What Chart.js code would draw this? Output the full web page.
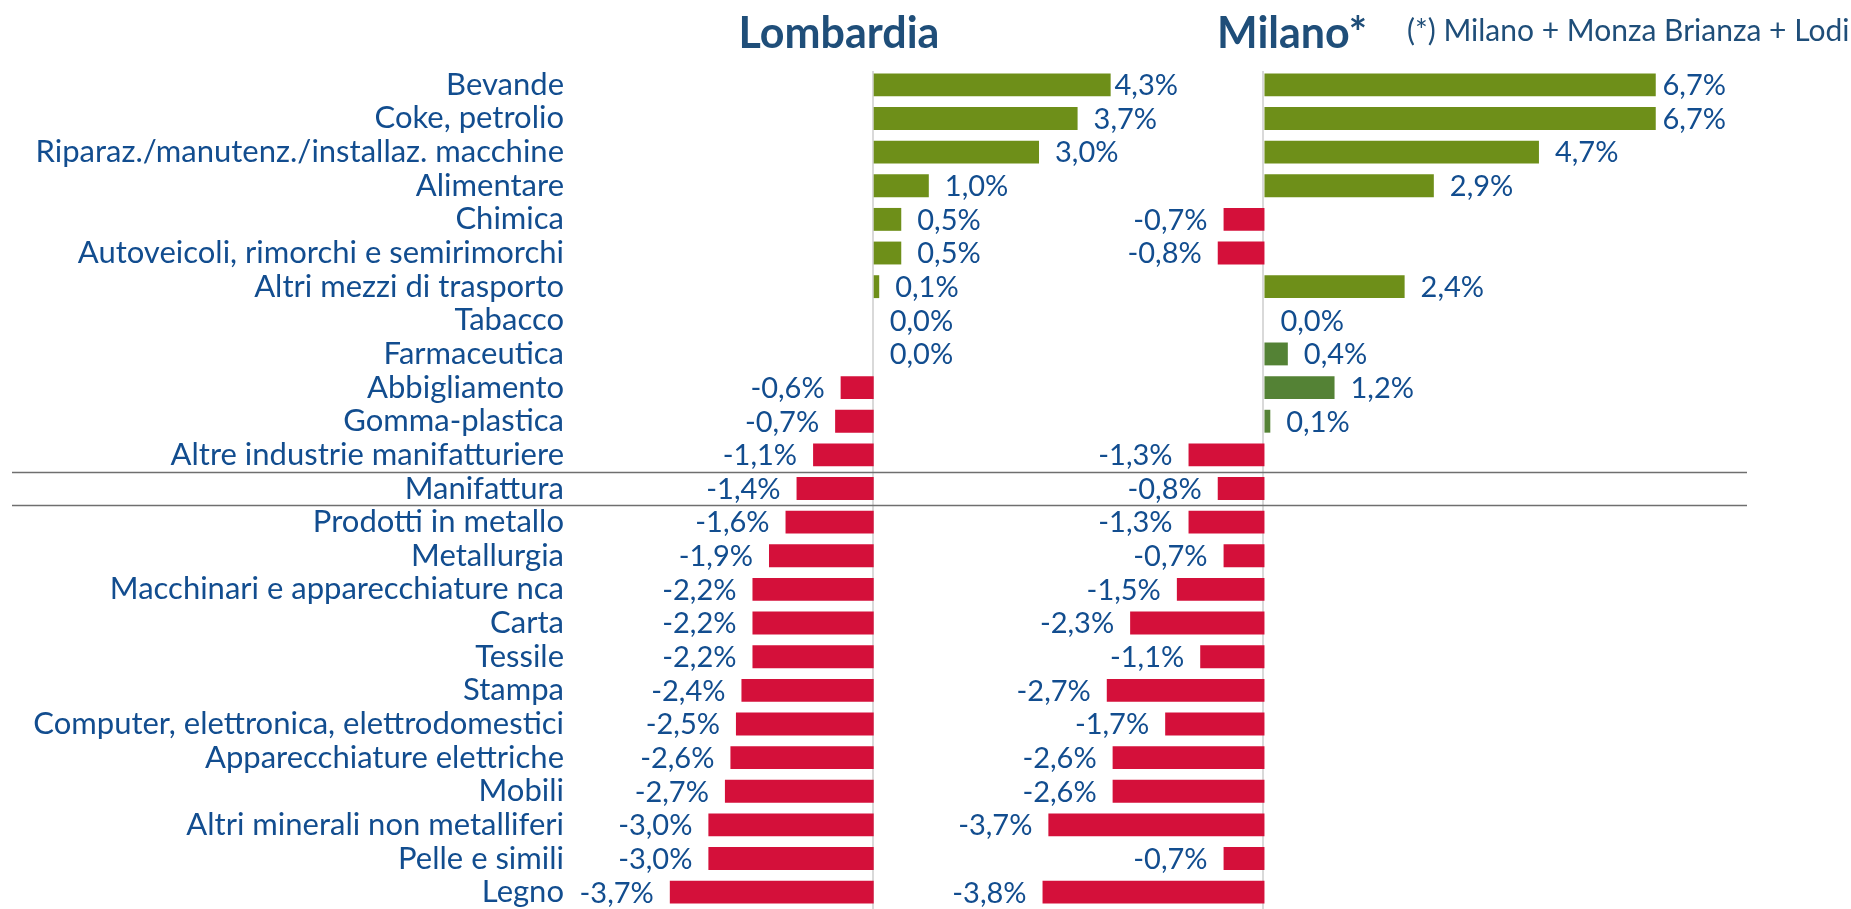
<!DOCTYPE html>
<html lang="it">
<head>
<meta charset="utf-8">
<title>Lombardia / Milano</title>
<script src="https://cdn.jsdelivr.net/npm/chart.js@4.4.1/dist/chart.umd.min.js"></script>
<style>
  html, body { margin: 0; padding: 0; background: #fff; }
  #wrap { position: relative; width: 1851px; height: 909px; overflow: hidden; }
  #chart { position: absolute; left: 0; top: 0; }
  .title { position: absolute; font-family: Lato, "Noto Sans", sans-serif; line-height: 1; white-space: nowrap; }
  .main { font-size: 43px; font-weight: bold; color: #1F4E79; top: 10px; transform: translateX(-50%); }
  .note { font-size: 30px; color: #1F4E79; top: 14px; left: 1407px; }
</style>
</head>
<body>
<div id="wrap">
  <canvas id="chart" width="1851" height="909"></canvas>
  <div class="title main" style="left:839px">Lombardia</div>
  <div class="title main" style="left:1292px">Milano*</div>
  <div class="title note">(*) Milano + Monza Brianza + Lodi</div>
</div>
<script>
const categories = [
  'Bevande',
  'Coke, petrolio',
  'Riparaz./manutenz./installaz. macchine',
  'Alimentare',
  'Chimica',
  'Autoveicoli, rimorchi e semirimorchi',
  'Altri mezzi di trasporto',
  'Tabacco',
  'Farmaceutica',
  'Abbigliamento',
  'Gomma-plastica',
  'Altre industrie manifatturiere',
  'Manifattura',
  'Prodotti in metallo',
  'Metallurgia',
  'Macchinari e apparecchiature nca',
  'Carta',
  'Tessile',
  'Stampa',
  'Computer, elettronica, elettrodomestici',
  'Apparecchiature elettriche',
  'Mobili',
  'Altri minerali non metalliferi',
  'Pelle e simili',
  'Legno'
];

// variazioni % (Lombardia e Milano + Monza Brianza + Lodi)
const lombardia = [4.3, 3.7, 3.0, 1.0, 0.5, 0.5, 0.1, 0.0, 0.0, -0.6, -0.7, -1.1, -1.4,
  -1.6, -1.9, -2.2, -2.2, -2.2, -2.4, -2.5, -2.6, -2.7, -3.0, -3.0, -3.7];
const milano = [6.7, 6.7, 4.7, 2.9, -0.7, -0.8, 2.4, 0.0, 0.4, 1.2, 0.1, -1.3, -0.8,
  -1.3, -0.7, -1.5, -2.3, -1.1, -2.7, -1.7, -2.6, -2.6, -3.7, -0.7, -3.8];

// rows drawn in the darker green in the Milano panel
const milanoDarkRows = ['Farmaceutica', 'Abbigliamento', 'Gomma-plastica'];
// the total row sits between two separator lines
const totalRow = 'Manifattura';

const GREEN = '#6E8F19';
const DARK_GREEN = '#548235';
const RED = '#D4103A';
const TEXT = '#124D8F';
const FONT = 'Lato, "Noto Sans", sans-serif';

function colorsFor(values, darkRows) {
  return values.map((v, i) => {
    if (v < 0) return RED;
    return darkRows.includes(categories[i]) ? DARK_GREEN : GREEN;
  });
}

function fmt(v) {
  return v.toFixed(1).replace('.', ',') + '%';
}

// zero lines + separator lines around the total row
const guides = {
  id: 'guides',
  beforeDatasetsDraw(chart) {
    const { ctx, chartArea } = chart;
    ctx.save();
    ctx.strokeStyle = '#D9D9D9';
    ctx.lineWidth = 2;
    ['xL', 'xM'].forEach(id => {
      const x = Math.round(chart.scales[id].getPixelForValue(0)) - 1;
      ctx.beginPath();
      ctx.moveTo(x, chartArea.top + 3);
      ctx.lineTo(x, chartArea.bottom);
      ctx.stroke();
    });
    ctx.restore();
  },
  afterDatasetsDraw(chart) {
    const { ctx } = chart;
    const y = chart.scales.y;
    const idx = categories.indexOf(totalRow);
    ctx.save();
    ctx.strokeStyle = '#6F6F6F';
    ctx.lineWidth = 1.5;
    [idx - 0.5, idx + 0.5].forEach(v => {
      const py = Math.round(y.getPixelForValue(v)) + 0.5;
      ctx.beginPath();
      ctx.moveTo(12, py);
      ctx.lineTo(1747, py);
      ctx.stroke();
    });
    ctx.restore();
  }
};

// value labels at the bar ends
const labelRightLimit = { xL: 1178, xM: 1726 };
const valueLabels = {
  id: 'valueLabels',
  afterDatasetsDraw(chart) {
    const { ctx } = chart;
    ctx.save();
    ctx.font = '29px ' + FONT;
    ctx.fillStyle = TEXT;
    ctx.textBaseline = 'middle';
    chart.data.datasets.forEach((ds, di) => {
      const meta = chart.getDatasetMeta(di);
      meta.data.forEach((bar, i) => {
        const v = ds.data[i];
        const txt = fmt(v);
        const w = ctx.measureText(txt).width;
        if (v < 0) {
          ctx.textAlign = 'right';
          ctx.fillText(txt, bar.x - 16, bar.y + 1);
        } else {
          let x = Math.max(bar.x, bar.base) + 16;
          x = Math.min(x, labelRightLimit[ds.xAxisID] - w);
          ctx.textAlign = 'left';
          ctx.fillText(txt, x, bar.y + 1);
        }
      });
    });
    ctx.restore();
  }
};

const ctx = document.getElementById('chart').getContext('2d');
new Chart(ctx, {
  type: 'bar',
  data: {
    labels: categories,
    datasets: [
      {
        label: 'Lombardia',
        data: lombardia,
        xAxisID: 'xL',
        backgroundColor: colorsFor(lombardia, []),
        grouped: false,
        barPercentage: 1,
        categoryPercentage: 0.68
      },
      {
        label: 'Milano*',
        data: milano,
        xAxisID: 'xM',
        backgroundColor: colorsFor(milano, milanoDarkRows),
        grouped: false,
        barPercentage: 1,
        categoryPercentage: 0.68
      }
    ]
  },
  options: {
    indexAxis: 'y',
    responsive: false,
    animation: false,
    layout: { padding: { top: 68, right: 51, bottom: 0, left: 0 } },
    scales: {
      y: {
        afterFit: (scale) => {
          scale.width = 580;
          // rows run right to the bottom edge, no room kept for label overflow
          scale.paddingTop = 0;
          scale.paddingBottom = 0;
        },
        grid: { display: false, drawTicks: false },
        border: { display: false },
        ticks: {
          autoSkip: false,
          padding: 16,
          color: TEXT,
          font: { family: FONT, size: 31 }
        }
      },
      // both value axes span the whole plot, their ranges set so each zero
      // line lands where the panel sits
      xL: { type: 'linear', position: 'bottom', display: false, min: -5.33, max: 16.81 },
      xM: { type: 'linear', position: 'bottom', display: false, min: -11.72, max: 9.17 }
    },
    plugins: {
      legend: { display: false },
      tooltip: { enabled: false }
    }
  },
  plugins: [guides, valueLabels]
});
</script>
</body>
</html>
